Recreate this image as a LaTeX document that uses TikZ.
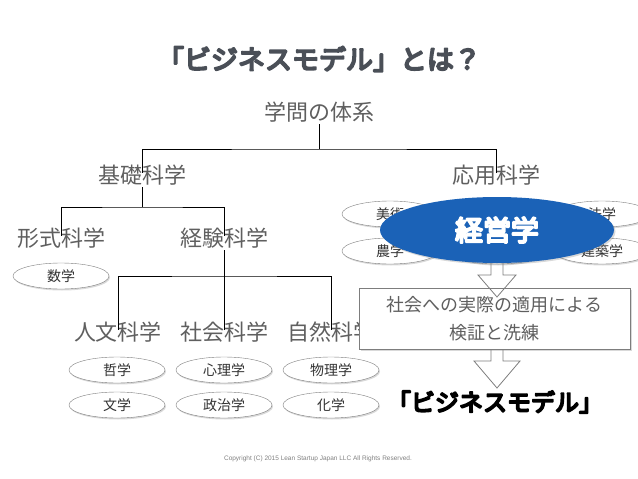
\documentclass[tikz,border=0pt]{standalone}
\usepackage{fontspec}
\newfontfamily\jpfont{Noto Sans CJK JP}
\newfontfamily\copyfont{Liberation Sans}
\usetikzlibrary{positioning,calc,shapes.geometric,shadows}
\definecolor{textgray}{RGB}{95,95,95}
\definecolor{titlegray}{RGB}{74,79,87}
\definecolor{keieiblue}{RGB}{27,98,183}
\definecolor{edgegray}{RGB}{125,125,125}
\newcommand{\heavytext}[2]{\special{pdf:literal 2 Tr #1 w 1 j}#2\special{pdf:literal 0 Tr}}
\tikzset{field/.style={font=\jpfont\fontsize{22}{22}\selectfont,text=textgray,inner sep=2pt,text height=0.8em,text depth=0.2em},
         leaf/.style={ellipse,draw=edgegray,fill=white,minimum width=96,minimum height=26,inner sep=0pt,
                      font=\jpfont\fontsize{14}{14}\selectfont,text=black!80,
                      drop shadow={shadow xshift=1pt,shadow yshift=-1.5pt,opacity=0.3}},
         panel/.style={draw=edgegray,fill=white,minimum width=271,minimum height=61,align=center,
                       font=\jpfont\fontsize{18}{28}\selectfont,text=textgray,
                       drop shadow={shadow xshift=1.5pt,shadow yshift=-1.5pt,opacity=0.3}},
         tree/.style={line width=0.8pt},
         hollow/.style={draw=edgegray,line width=0.8pt}
}
\begin{document}
\begin{tikzpicture}[x=1pt,y=-1pt]
\useasboundingbox (0,0) rectangle (638,479);

\node[font=\jpfont\fontsize{27}{27}\selectfont,text=titlegray] (title) at (319,59) {\heavytext{1.9}{「ビジネスモデル」とは？}};

\node[field] (taikei) at (319,117) {学問の体系};
\node[field] (kiso) at (142,180) {基礎科学};
\node[field] (ouyou) at (496,180) {応用科学};
\node[field] (keishiki) at (61,243) {形式科学};
\node[field] (keiken) at (224,243) {経験科学};
\node[field] (jinbun) at (118,337) {人文科学};
\node[field] (shakai) at (224,337) {社会科学};
\node[field] (shizen) at (331,337) {自然科学};

\node[leaf] (suugaku) at (61,276) {数学};
\node[leaf] (tetsugaku) at (117,370) {哲学};
\node[leaf] (bungaku) at (117,405) {文学};
\node[leaf] (shinri) at (224,370) {心理学};
\node[leaf] (seiji) at (224,405) {政治学};
\node[leaf] (butsuri) at (331,370) {物理学};
\node[leaf] (kagaku) at (331,405) {化学};
\node[leaf] (bijutsu) at (390,214) {美術};
\node[leaf] (hougaku) at (602,214) {法学};
\node[leaf] (nougaku) at (390,251) {農学};
\node[leaf] (hidden) at (497,251) {};
\node[leaf] (kenchiku) at (602,251) {建築学};

\coordinate (bar1) at (319,149);
\coordinate (bar2) at (142,207);
\coordinate (bar3) at (224,276);
\draw[tree] (taikei) -- (bar1);
\draw[tree] (kiso) |- (bar1) -| (ouyou);
\draw[tree] (kiso) -- (bar2);
\draw[tree] (keishiki) |- (bar2) -| (keiken);
\draw[tree] (keiken) -- (bar3);
\draw[tree] (jinbun) |- (bar3) -| (shizen);
\draw[tree] (shakai) -- (bar3);

\node[panel] (panel) at (494.5,318.5) {社会への実際の適用による\\検証と洗練};

\coordinate (tip1) at (497,297);
\coordinate (tip2) at (497,388);
\draw[hollow] let \p1=(ouyou.south), \p2=(tip1) in
  (\x2-6,\y1-50) -- (\x2-6,\y2+22) -- (\x2-19,\y2+22) -- (tip1) -- (\x2+19,\y2+22) -- (\x2+6,\y2+22) -- (\x2+6,\y1-50);
\draw[hollow] let \p1=(panel.south), \p2=(tip2) in
  (\x2-6,\y1) -- (\x2-6,\y2+27) -- (\x2-23,\y2+27) -- (tip2) -- (\x2+23,\y2+27) -- (\x2+6,\y2+27) -- (\x2+6,\y1);

\node[ellipse,fill=keieiblue,minimum width=234,minimum height=66,inner sep=0pt,
      font=\jpfont\fontsize{28}{28}\selectfont,text=white,
      drop shadow={shadow xshift=1.5pt,shadow yshift=-1.5pt,opacity=0.3}] (keiei) at (497,230) {\heavytext{2}{経営学}};

\node[font=\jpfont\fontsize{24}{24}\selectfont,text=black] (bizmodel) at (495,402) {\heavytext{1.8}{「ビジネスモデル」}};

\node[font=\copyfont\fontsize{6.5}{6.5}\selectfont,text=gray] (copyright) at (318,459) {Copyright (C) 2015 Lean Startup Japan LLC All Rights Reserved.};

\end{tikzpicture}
\end{document}
